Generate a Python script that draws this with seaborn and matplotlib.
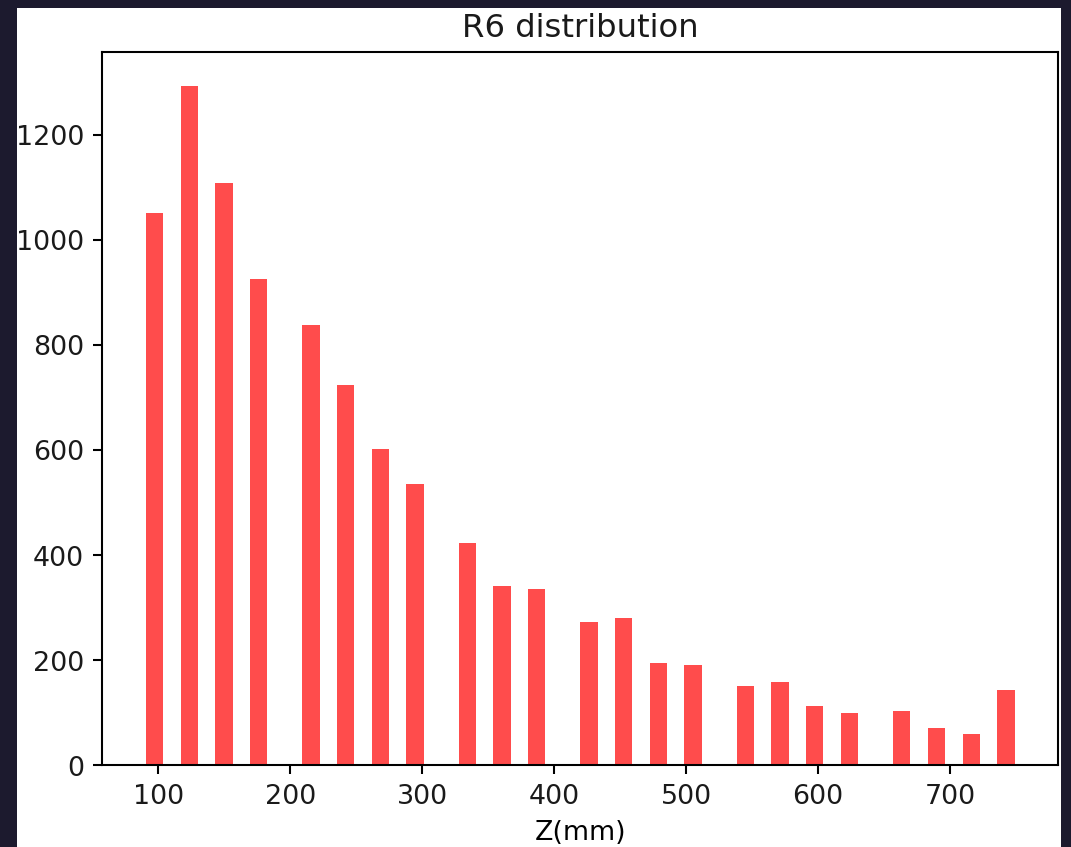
import matplotlib
matplotlib.use("Agg")
import matplotlib.pyplot as plt
from matplotlib.patches import Rectangle
import seaborn as sns

# Z positions (mm) of the recorded R6 events and their counts
z_values = [97, 123, 150, 176, 215, 242, 268, 294, 334, 360, 387, 426,
            452, 479, 505, 545, 571, 597, 624, 663, 689, 716, 742]
counts = [1050, 1292, 1108, 925, 837, 723, 602, 536, 423, 342, 335, 273,
          280, 195, 192, 152, 159, 114, 100, 104, 71, 60, 144]

# histogram binning: 50 equal bins over the observed Z range
n_bins = 50
z_range = (90.4, 748.9)

plt.rcParams["font.size"] = 10.4
plt.rcParams["text.color"] = "#1a1a1a"
plt.rcParams["xtick.labelcolor"] = "#1a1a1a"
plt.rcParams["ytick.labelcolor"] = "#1a1a1a"

DPI = 186
fig = plt.figure(figsize=(1071.4 / DPI, 847.4 / DPI), dpi=DPI,
                 facecolor="#1c1a2e")
# white canvas sitting on the dark frame, kept behind the axes
fig.patches.append(Rectangle((0.01615, 0.0), 0.9745, 0.99055,
                             transform=fig.transFigure, facecolor="white",
                             edgecolor="none", zorder=-10))

ax = fig.add_axes([0.0955, 0.0962, 0.98758 - 0.0955, 0.9378 - 0.0962])
ax.set_facecolor("white")

sns.histplot(x=z_values, weights=counts, bins=n_bins, binrange=z_range,
             color="red", alpha=0.7, linewidth=0, ax=ax)

ax.set_title("R6 distribution")
ax.set_xlabel("Z(mm)")
ax.set_ylabel("")

fig.savefig("out.png", dpi=DPI, facecolor=fig.get_facecolor())
